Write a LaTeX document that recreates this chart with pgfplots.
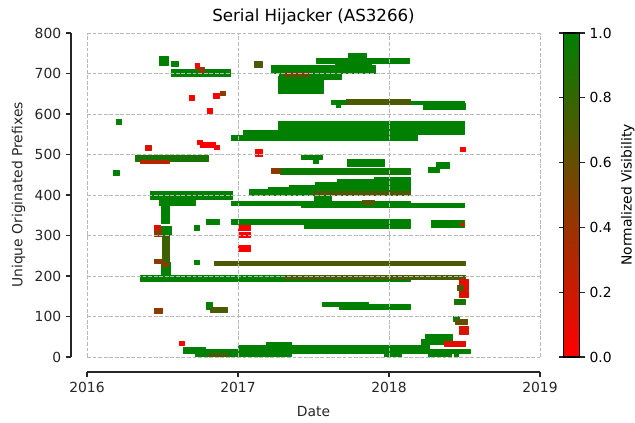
\documentclass[border=0pt]{standalone}
\usepackage{pgfplots}
\pgfplotsset{compat=1.18}
\usepackage{fontspec}
\setmainfont{DejaVu Sans}
\definecolor{spine}{HTML}{262626}
\pgfplotsset{
  /pgf/number format/assume math mode=true,
  every axis/.append style={font=\fontsize{10}{12}\selectfont},
}
\begin{document}
\begin{tikzpicture}
\path[use as bounding box] (-62.64pt,-47.52pt) rectangle (394.56pt,257.04pt);
% main data axis
\begin{axis}[
  at={(0,0)}, anchor=south west, scale only axis,
  width=326.16pt, height=233.28pt,
  xmin=2016, xmax=2019, ymin=0, ymax=800,
  axis line style={draw=none},
  xtick={2016,2017,2018,2019}, ytick={0,100,...,800},
  xticklabels={}, yticklabels={},
  major tick length=0pt,
  grid=major, grid style={black!28, dash pattern=on 2.8pt off 1.2pt, line width=0.6pt},
  axis on top,
  title={Serial Hijacker (AS3266)},
  title style={font=\fontsize{12}{14}\selectfont, text=black, yshift=-4pt},
  colormap={rg}{rgb255=(255,0,0) rgb255=(0,128,0)},
  point meta min=0, point meta max=1,
  colorbar right,
  colorbar style={
    at={(parent axis.north east)}, anchor=north west, xshift=8.64pt,
    width=11.52pt,
    ytick={0,0.2,...,1.0},
    yticklabel style={/pgf/number format/.cd, fixed, fixed zerofill, precision=1},
    ylabel={Normalized Visibility},
    ylabel style={at={(axis description cs:4.0,0.5)}, anchor=center, rotate=0},
    tick align=outside, major tick length=3.5pt,
    tick style={spine, line width=0.8pt},
    axis line style={black, line width=0.8pt},
  },
]
\addplot[patch, patch type=rectangle, shader=flat, point meta=explicit]
 table[row sep=\\, meta=c] {
x y c \\
2016.477 721 1 \\ 2016.539 721 1 \\ 2016.539 742 1 \\ 2016.477 742 1 \\
2016.556 719 1 \\ 2016.603 719 1 \\ 2016.603 731 1 \\ 2016.556 731 1 \\
2016.556 694 1 \\ 2016.951 694 1 \\ 2016.951 711 1 \\ 2016.556 711 1 \\
2017.521 725 1 \\ 2018.135 725 1 \\ 2018.135 738 1 \\ 2017.521 738 1 \\
2017.731 738 1 \\ 2017.852 738 1 \\ 2017.852 751 1 \\ 2017.731 751 1 \\
2017.223 700 1 \\ 2017.907 700 1 \\ 2017.907 720 1 \\ 2017.223 720 1 \\
2017.642 713 1 \\ 2017.885 713 1 \\ 2017.885 725 1 \\ 2017.642 725 1 \\
2017.272 686 1 \\ 2017.682 686 1 \\ 2017.682 700 1 \\ 2017.272 700 1 \\
2017.269 651 1 \\ 2017.565 651 1 \\ 2017.565 694 1 \\ 2017.269 694 1 \\
2016.194 575 1 \\ 2016.225 575 1 \\ 2016.225 586 1 \\ 2016.194 586 1 \\
2017.620 624 1 \\ 2017.720 624 1 \\ 2017.720 634 1 \\ 2017.620 634 1 \\
2017.650 616 1 \\ 2017.680 616 1 \\ 2017.680 624 1 \\ 2017.650 624 1 \\
2018.140 625 1 \\ 2018.500 625 1 \\ 2018.500 631 1 \\ 2018.140 631 1 \\
2018.225 611 1 \\ 2018.503 611 1 \\ 2018.503 626 1 \\ 2018.225 626 1 \\
2017.270 550 1 \\ 2018.500 550 1 \\ 2018.500 583 1 \\ 2017.270 583 1 \\
2017.037 548 1 \\ 2017.270 548 1 \\ 2017.270 560 1 \\ 2017.037 560 1 \\
2016.954 534 1 \\ 2018.190 534 1 \\ 2018.190 548 1 \\ 2016.954 548 1 \\
2016.318 484 0.9 \\ 2016.800 484 0.9 \\ 2016.800 497 0.9 \\ 2016.318 497 0.9 \\
2017.420 487 1 \\ 2017.558 487 1 \\ 2017.558 499 1 \\ 2017.420 499 1 \\
2017.500 478 1 \\ 2017.530 478 1 \\ 2017.530 488 1 \\ 2017.500 488 1 \\
2017.726 470 1 \\ 2017.969 470 1 \\ 2017.969 488 1 \\ 2017.726 488 1 \\
2018.260 457 1 \\ 2018.330 457 1 \\ 2018.330 468 1 \\ 2018.260 468 1 \\
2018.310 465 1 \\ 2018.400 465 1 \\ 2018.400 480 1 \\ 2018.310 480 1 \\
2016.174 448 1 \\ 2016.214 448 1 \\ 2016.214 460 1 \\ 2016.174 460 1 \\
2017.283 451 0.95 \\ 2018.140 451 0.95 \\ 2018.140 465 0.95 \\ 2017.283 465 0.95 \\
2017.077 400 1 \\ 2018.140 400 1 \\ 2018.140 414 1 \\ 2017.077 414 1 \\
2017.200 405 1 \\ 2018.140 405 1 \\ 2018.140 419 1 \\ 2017.200 419 1 \\
2017.340 410 1 \\ 2018.140 410 1 \\ 2018.140 425 1 \\ 2017.340 425 1 \\
2017.510 413 1 \\ 2018.140 413 1 \\ 2018.140 431 1 \\ 2017.510 431 1 \\
2017.660 418 1 \\ 2018.140 418 1 \\ 2018.140 438 1 \\ 2017.660 438 1 \\
2017.900 427 1 \\ 2018.140 427 1 \\ 2018.140 444 1 \\ 2017.900 444 1 \\
2016.420 390 1 \\ 2016.965 390 1 \\ 2016.965 409 1 \\ 2016.420 409 1 \\
2016.477 374 1 \\ 2016.715 374 1 \\ 2016.715 394 1 \\ 2016.477 394 1 \\
2016.494 331 1 \\ 2016.543 331 1 \\ 2016.543 377 1 \\ 2016.494 377 1 \\
2016.954 375 1 \\ 2017.420 375 1 \\ 2017.420 385 1 \\ 2016.954 385 1 \\
2017.420 370 1 \\ 2018.500 370 1 \\ 2018.500 380 1 \\ 2017.420 380 1 \\
2017.420 378 1 \\ 2018.140 378 1 \\ 2018.140 385 1 \\ 2017.420 385 1 \\
2017.505 385 1 \\ 2017.616 385 1 \\ 2017.616 396 1 \\ 2017.505 396 1 \\
2016.788 328 1 \\ 2016.874 328 1 \\ 2016.874 340 1 \\ 2016.788 340 1 \\
2016.954 328 1 \\ 2018.140 328 1 \\ 2018.140 340 1 \\ 2016.954 340 1 \\
2017.437 317 1 \\ 2018.140 317 1 \\ 2018.140 328 1 \\ 2017.437 328 1 \\
2018.283 320 1 \\ 2018.499 320 1 \\ 2018.499 338 1 \\ 2018.283 338 1 \\
2016.713 314 1 \\ 2016.744 314 1 \\ 2016.744 326 1 \\ 2016.713 326 1 \\
2016.494 300 1 \\ 2016.556 300 1 \\ 2016.556 323 1 \\ 2016.494 323 1 \\
2016.494 196 1 \\ 2016.554 196 1 \\ 2016.554 235 1 \\ 2016.494 235 1 \\
2016.713 228 1 \\ 2016.744 228 1 \\ 2016.744 238 1 \\ 2016.713 238 1 \\
2016.353 188 1 \\ 2017.307 188 1 \\ 2017.307 202 1 \\ 2016.353 202 1 \\
2017.307 188 1 \\ 2018.140 188 1 \\ 2018.140 193 1 \\ 2017.307 193 1 \\
2018.433 130 0.9 \\ 2018.503 130 0.9 \\ 2018.503 142 0.9 \\ 2018.433 142 0.9 \\
2017.556 126 1 \\ 2017.860 126 1 \\ 2017.860 136 1 \\ 2017.556 136 1 \\
2017.670 119 1 \\ 2018.140 119 1 \\ 2018.140 129 1 \\ 2017.670 129 1 \\
2016.792 118 1 \\ 2016.832 118 1 \\ 2016.832 134 1 \\ 2016.792 134 1 \\
2018.426 88 1 \\ 2018.464 88 1 \\ 2018.464 100 1 \\ 2018.426 100 1 \\
2016.638 9 1 \\ 2016.781 9 1 \\ 2016.781 24 1 \\ 2016.638 24 1 \\
2016.715 3 1 \\ 2017.355 3 1 \\ 2017.355 20 1 \\ 2016.715 20 1 \\
2017.190 24 1 \\ 2017.355 24 1 \\ 2017.355 36 1 \\ 2017.190 36 1 \\
2017.000 10 1 \\ 2018.270 10 1 \\ 2018.270 30 1 \\ 2017.000 30 1 \\
2017.355 8 1 \\ 2018.536 8 1 \\ 2018.536 18 1 \\ 2017.355 18 1 \\
2017.970 0 1 \\ 2018.080 0 1 \\ 2018.080 11 1 \\ 2017.970 11 1 \\
2018.260 1 1 \\ 2018.415 1 1 \\ 2018.415 14 1 \\ 2018.260 14 1 \\
2018.430 0 1 \\ 2018.460 0 1 \\ 2018.460 11 1 \\ 2018.430 11 1 \\
2018.243 43 1 \\ 2018.422 43 1 \\ 2018.422 55 1 \\ 2018.243 55 1 \\
2018.212 32 1 \\ 2018.422 32 1 \\ 2018.422 43 1 \\ 2018.212 43 1 \\
2016.715 713 0 \\ 2016.746 713 0 \\ 2016.746 724 0 \\ 2016.715 724 0 \\
2016.744 703 0.4 \\ 2016.777 703 0.4 \\ 2016.777 716 0.4 \\ 2016.744 716 0.4 \\
2017.106 716 0.7 \\ 2017.161 716 0.7 \\ 2017.161 729 0.7 \\ 2017.106 729 0.7 \\
2017.307 692 0.6 \\ 2017.470 692 0.6 \\ 2017.470 703 0.6 \\ 2017.307 703 0.6 \\
2016.675 633 0 \\ 2016.710 633 0 \\ 2016.710 645 0 \\ 2016.675 645 0 \\
2016.839 638 0 \\ 2016.874 638 0 \\ 2016.874 650 0 \\ 2016.839 650 0 \\
2016.881 646 0.45 \\ 2016.914 646 0.45 \\ 2016.914 657 0.45 \\ 2016.881 657 0.45 \\
2016.795 602 0 \\ 2016.830 602 0 \\ 2016.830 613 0 \\ 2016.795 613 0 \\
2017.720 625 0.7 \\ 2018.140 625 0.7 \\ 2018.140 637 0.7 \\ 2017.720 637 0.7 \\
2016.733 524 0 \\ 2016.766 524 0 \\ 2016.766 534 0 \\ 2016.733 534 0 \\
2016.748 517 0 \\ 2016.848 517 0 \\ 2016.848 529 0 \\ 2016.748 529 0 \\
2016.843 513 0 \\ 2016.876 513 0 \\ 2016.876 523 0 \\ 2016.843 523 0 \\
2016.389 511 0.15 \\ 2016.426 511 0.15 \\ 2016.426 523 0.15 \\ 2016.389 523 0.15 \\
2017.117 495 0.05 \\ 2017.163 495 0.05 \\ 2017.163 512 0.05 \\ 2017.117 512 0.05 \\
2018.470 507 0 \\ 2018.503 507 0 \\ 2018.503 519 0 \\ 2018.470 519 0 \\
2016.351 478 0.3 \\ 2016.545 478 0.3 \\ 2016.545 485 0.3 \\ 2016.351 485 0.3 \\
2017.223 454 0.45 \\ 2017.283 454 0.45 \\ 2017.283 467 0.45 \\ 2017.223 467 0.45 \\
2017.500 400 0.7 \\ 2018.140 400 0.7 \\ 2018.140 408 0.7 \\ 2017.500 408 0.7 \\
2017.826 377 0.65 \\ 2017.903 377 0.65 \\ 2017.903 387 0.65 \\ 2017.826 387 0.65 \\
2018.470 325 0.15 \\ 2018.500 325 0.15 \\ 2018.500 329 0.15 \\ 2018.470 329 0.15 \\
2016.446 312 0.1 \\ 2016.488 312 0.1 \\ 2016.488 324 0.1 \\ 2016.446 324 0.1 \\
2016.446 298 0.45 \\ 2016.494 298 0.45 \\ 2016.494 312 0.45 \\ 2016.446 312 0.45 \\
2016.499 235 0.75 \\ 2016.545 235 0.75 \\ 2016.545 300 0.75 \\ 2016.499 300 0.75 \\
2017.000 314 0 \\ 2017.084 314 0 \\ 2017.084 325 0 \\ 2017.000 325 0 \\
2017.000 296 0 \\ 2017.084 296 0 \\ 2017.084 308 0 \\ 2017.000 308 0 \\
2017.000 262 0 \\ 2017.084 262 0 \\ 2017.084 275 0 \\ 2017.000 275 0 \\
2016.444 231 0.45 \\ 2016.499 231 0.45 \\ 2016.499 241 0.45 \\ 2016.444 241 0.45 \\
2016.499 225 0.4 \\ 2016.540 225 0.4 \\ 2016.540 231 0.4 \\ 2016.499 231 0.4 \\
2016.841 227 0.7 \\ 2018.503 227 0.7 \\ 2018.503 237 0.7 \\ 2016.841 237 0.7 \\
2017.307 193 0.72 \\ 2018.503 193 0.72 \\ 2018.503 202 0.72 \\ 2017.307 202 0.72 \\
2018.464 165 0.1 \\ 2018.525 165 0.1 \\ 2018.525 193 0.1 \\ 2018.464 193 0.1 \\
2018.450 165 0.7 \\ 2018.490 165 0.7 \\ 2018.490 176 0.7 \\ 2018.450 176 0.7 \\
2018.466 147 0.15 \\ 2018.525 147 0.15 \\ 2018.525 162 0.15 \\ 2018.466 162 0.15 \\
2016.815 110 0.7 \\ 2016.930 110 0.7 \\ 2016.930 122 0.7 \\ 2016.815 122 0.7 \\
2016.444 109 0.45 \\ 2016.501 109 0.45 \\ 2016.501 121 0.45 \\ 2016.444 121 0.45 \\
2018.437 82 0.6 \\ 2018.520 82 0.6 \\ 2018.520 93 0.6 \\ 2018.437 93 0.6 \\
2018.464 57 0.15 \\ 2018.525 57 0.15 \\ 2018.525 75 0.15 \\ 2018.464 75 0.15 \\
2016.614 29 0 \\ 2016.645 29 0 \\ 2016.645 40 0 \\ 2016.614 40 0 \\
2016.810 1 0.7 \\ 2016.930 1 0.7 \\ 2016.930 9 0.7 \\ 2016.810 9 0.7 \\
2018.366 27 0.1 \\ 2018.503 27 0.1 \\ 2018.503 38 0.1 \\ 2018.366 38 0.1 \\
};
\end{axis}
% offset left spine
\begin{axis}[
  at={(-11.52pt,0)}, anchor=south west, scale only axis,
  width=326.16pt, height=233.28pt,
  xmin=2016, xmax=2019, ymin=0, ymax=800,
  hide x axis,
  axis y line*=left,
  ytick={0,100,...,800},
  tick align=outside, major tick length=3.5pt,
  tick style={spine, line width=0.8pt},
  y axis line style={-, spine, line width=0.8pt},
  yticklabel style={text=spine},
  ylabel={Unique Originated Prefixes},
  ylabel style={text=spine},
]
\end{axis}
% offset bottom spine
\begin{axis}[
  at={(0,-10.8pt)}, anchor=south west, scale only axis,
  width=326.16pt, height=233.28pt,
  xmin=2016, xmax=2019, ymin=0, ymax=800,
  hide y axis,
  axis x line*=bottom,
  xtick={2016,2017,2018,2019},
  xticklabel style={text=spine, /pgf/number format/1000 sep={}},
  tick align=outside, major tick length=3.5pt,
  tick style={spine, line width=0.8pt},
  x axis line style={-, spine, line width=0.8pt},
  xlabel={Date},
  xlabel style={text=spine, yshift=-3pt},
]
\end{axis}
\end{tikzpicture}
\end{document}
